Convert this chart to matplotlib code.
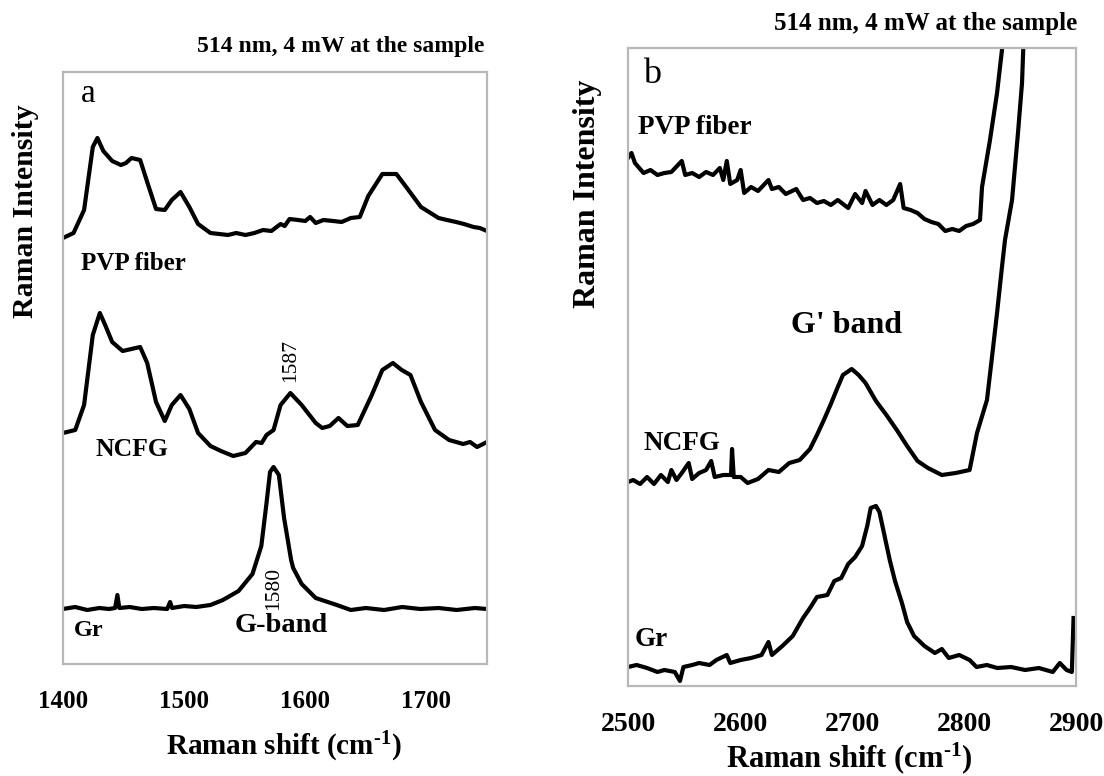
import matplotlib.pyplot as plt

plt.rcParams['font.family'] = ['Liberation Serif', 'DejaVu Serif']
plt.rcParams['mathtext.fontset'] = 'custom'
plt.rcParams['mathtext.rm'] = 'Liberation Serif:bold'
plt.rcParams['mathtext.it'] = 'Liberation Serif:bold'
plt.rcParams['mathtext.bf'] = 'Liberation Serif:bold'

# ---- panel a: G-band region (1400-1750 cm-1) ----
shift_a_pvp = [1400, 1408.7, 1417.4, 1424.6, 1428.4, 1433.3, 1440.6, 1447.8, 1452, 1456.5,
               1463.7, 1469.5, 1476.8, 1484.0, 1489.8, 1497.0, 1504.3, 1511.5, 1521.7, 1529,
               1536.2, 1543, 1550.6, 1558, 1565.1, 1572, 1579.6, 1583, 1587, 1594.1, 1600,
               1604, 1608.6, 1615, 1623.1, 1630, 1637.6, 1645, 1652.0, 1663.6, 1675.2,
               1683.9, 1695.5, 1710.0, 1717, 1724.5, 1731, 1738.9, 1744, 1750]
int_a_pvp = [26, 31, 54, 117, 126, 113, 103, 99, 101, 106,
             104, 82, 55, 54, 64, 72, 57, 40, 31, 30,
             29, 31, 29, 31, 34, 33, 40, 38, 45, 44, 43,
             47, 41, 44, 43, 42, 46, 47, 68, 90, 90,
             76, 57, 46, 44, 42, 40, 37, 36, 33]

shift_a_ncfg = [1400, 1410.1, 1417.4, 1424.6, 1430.4, 1434.8, 1440.6, 1449.2, 1456.5, 1463.7,
                1469.5, 1476.8, 1484.0, 1489.8, 1497.0, 1504.3, 1511.5, 1521.7, 1530.4, 1540.5,
                1550.6, 1559.3, 1564, 1568.0, 1573.8, 1579.6, 1587.7, 1597.0, 1608.6, 1614,
                1620.2, 1627.4, 1634.7, 1643.3, 1654.9, 1663.6, 1672.3, 1679.6, 1686.8, 1695.5,
                1707.1, 1718.7, 1730.3, 1736, 1741.8, 1750]
int_a_ncfg = [31, 34, 59, 129, 151, 139, 122, 113, 115, 117,
              101, 62, 43, 59, 69, 55, 31, 18, 13, 8,
              11, 22, 21, 29, 34, 59, 71, 59, 41, 36,
              38, 46, 38, 39, 69, 94, 101, 94, 89, 62,
              34, 24, 20, 22, 17, 22]

shift_a_gr = [1400, 1410, 1420, 1430, 1438, 1443, 1444.9, 1446.5, 1455, 1465,
              1475, 1486, 1488.4, 1490, 1500, 1510, 1521.7, 1532, 1544.9, 1556.4,
              1563.7, 1568.0, 1570.9, 1573.8, 1578.2, 1582.5, 1588.3, 1590, 1597.0, 1608.6,
              1626.0, 1637.6, 1650, 1665, 1680, 1695, 1710, 1725, 1740, 1750]
int_a_gr = [55, 57, 54, 56, 55, 56, 69, 56, 57, 55,
            56, 55, 62, 56, 58, 57, 59, 64, 73, 90,
            118, 161, 192, 197, 189, 146, 104, 96, 80, 66,
            59, 54, 56, 54, 57, 55, 56, 54, 56, 55]

offsets_a = [400, 200, 0]   # PVP fiber, NCFG, Gr

# ---- panel b: G' band region (2500-2900 cm-1) ----
shift_b_pvp = [2500, 2503.1, 2506.2, 2513.9, 2520.1, 2526.3, 2532.5, 2538.7, 2548.0, 2551.1,
               2557.3, 2563.5, 2569.7, 2575.9, 2582.0, 2585.1, 2588.2, 2591.3, 2597.5, 2600.6,
               2603.7, 2609.9, 2616.1, 2625.4, 2628.5, 2634.7, 2640.9, 2650.2, 2656.3, 2662.5,
               2668.7, 2674.9, 2681.1, 2687.3, 2696.6, 2702.8, 2709.0, 2712.1, 2718.3, 2724.5,
               2730.7, 2736.8, 2743.0, 2746.1, 2752.3, 2758.5, 2764.7, 2770.9, 2777.1, 2783.3,
               2789.5, 2795.7, 2801.9, 2808.1, 2814.3, 2816.1, 2823.2, 2829.5, 2833.9, 2836.6]
int_b_pvp = [78, 83, 73, 63, 66, 61, 63, 64, 75, 61,
             63, 59, 64, 61, 68, 56, 75, 52, 56, 66,
             43, 49, 45, 56, 47, 49, 42, 47, 36, 38,
             33, 35, 31, 36, 28, 42, 33, 45, 31, 36,
             31, 36, 52, 28, 26, 23, 17, 14, 12, 5,
             7, 5, 10, 12, 16, 49, 96, 143, 186, 236]

shift_b_ncfg = [2500, 2504.6, 2510.8, 2517.0, 2523.2, 2529.4, 2535.6, 2538.7, 2543.3, 2548.0,
                2554.2, 2557.3, 2563.5, 2569.7, 2574.3, 2577.4, 2585.1, 2592.0, 2592.9, 2594.4,
                2600.6, 2606.8, 2616.1, 2625.4, 2634.7, 2644.0, 2653.3, 2662.5, 2668.7, 2674.9,
                2681.1, 2687.3, 2691.9, 2699.7, 2705.9, 2712.1, 2721.4, 2730.7, 2740.0, 2749.2,
                2758.5, 2767.8, 2780.2, 2792.6, 2805.0, 2811.6, 2820.5, 2825.0, 2829.5, 2833.9,
                2836.6, 2842.9, 2848.2, 2851.8, 2854.5]
int_b_ncfg = [4, 6, 2, 9, 2, 11, 4, 16, 6, 13,
              23, 7, 13, 16, 25, 9, 11, 11, 37, 9,
              9, 3, 7, 16, 14, 23, 26, 37, 51, 66,
              82, 99, 111, 117, 111, 103, 85, 71, 56, 40,
              25, 18, 11, 13, 16, 53, 86, 129, 173, 219,
              246, 286, 353, 403, 486]

shift_b_gr = [2500, 2507.7, 2517.0, 2526.3, 2532.5, 2541.8, 2546.4, 2549.5, 2557.3, 2563.5,
              2572.8, 2578.9, 2588.2, 2591.3, 2600.6, 2609.9, 2619.2, 2625.4, 2628.5, 2637.8,
              2647.1, 2656.3, 2662.5, 2668.7, 2678.0, 2684.2, 2690.4, 2696.6, 2702.8, 2709.0,
              2713.6, 2716.7, 2721.4, 2724.5, 2729.1, 2733.7, 2738.4, 2744.6, 2749.2, 2755.4,
              2764.7, 2774.0, 2780.2, 2786.4, 2795.7, 2805.0, 2811.2, 2820.4, 2829.7, 2842.1,
              2854.5, 2866.9, 2879.3, 2885.5, 2891.6, 2896.3, 2897.8]
int_b_gr = [19, 21, 18, 14, 16, 14, 5, 19, 21, 23,
            21, 26, 31, 23, 26, 28, 31, 44, 31, 40,
            50, 68, 78, 89, 91, 105, 108, 122, 129, 140,
            160, 178, 180, 174, 150, 126, 105, 83, 64, 50,
            40, 33, 37, 28, 31, 26, 19, 21, 18, 19,
            16, 18, 14, 23, 16, 14, 68]

offsets_b = [450, 200, 0]   # PVP fiber, NCFG, Gr

xticks_a = [1400, 1500, 1600, 1700]
xticks_b = [2500, 2600, 2700, 2800, 2900]

W, H = 1104, 776
fig = plt.figure(figsize=(W / 100, H / 100), dpi=100)


def px_axes(x0, y0, x1, y1):
    return fig.add_axes([x0 / W, 1 - y1 / H, (x1 - x0) / W, (y1 - y0) / H])


def style_box(ax, ticks, size):
    for s in ax.spines.values():
        s.set_color('#b8b8b8')
        s.set_linewidth(1.6)
    ax.set_xticks(ticks)
    ax.set_yticks([])
    ax.tick_params(axis='x', length=0, pad=19, labelsize=size)
    for lab in ax.get_xticklabels():
        lab.set_fontweight('bold')


lw = 3.0
xlabel = 'Raman shift (cm$^{\u2010 1}$)'.replace(' 1', '1')

# panel a
ax1 = px_axes(63, 72, 487, 664)
ax1.plot(shift_a_pvp, [v + offsets_a[0] for v in int_a_pvp], color='black', lw=lw)
ax1.plot(shift_a_ncfg, [v + offsets_a[1] for v in int_a_ncfg], color='black', lw=lw)
ax1.plot(shift_a_gr, [v + offsets_a[2] for v in int_a_gr], color='black', lw=lw)
ax1.set_xlim(1400, 1750)
ax1.set_ylim(0, 592)
style_box(ax1, xticks_a, 18)

ax1.text(1414.9, 562, 'a', fontsize=24)
ax1.text(1414.9, 394, 'PVP fiber', fontsize=18, fontweight='bold')
ax1.text(1427.2, 208, 'NCFG', fontsize=18.5, fontweight='bold')
ax1.text(1409, 28, 'Gr', fontsize=17.5, fontweight='bold')
ax1.text(1580.3, 32, 'G-band', fontsize=20.5, fontweight='bold', ha='center')
ax1.text(1587.7, 304, '1587', fontsize=15.5, rotation=90, ha='center', va='center')
ax1.text(1573.8, 76, '1580', fontsize=15.5, rotation=90, ha='center', va='center',
         bbox=dict(facecolor='white', edgecolor='none', pad=0.5))

# panel b
ax2 = px_axes(628, 48, 1076, 686)
ax2.plot(shift_b_pvp, [v + offsets_b[0] for v in int_b_pvp], color='black', lw=lw)
ax2.plot(shift_b_ncfg, [v + offsets_b[1] for v in int_b_ncfg], color='black', lw=lw)
ax2.plot(shift_b_gr, [v + offsets_b[2] for v in int_b_gr], color='black', lw=lw)
ax2.set_xlim(2500, 2900)
ax2.set_ylim(0, 638)
style_box(ax2, xticks_b, 20)

ax2.text(2513.4, 603, 'b', fontsize=26)
ax2.text(2508.9, 552, 'PVP fiber', fontsize=19.5, fontweight='bold')
ax2.text(2695.5, 353, "G' band", fontsize=23, fontweight='bold', ha='center')
ax2.text(2513.4, 236, 'NCFG', fontsize=19.5, fontweight='bold')
ax2.text(2506.3, 40, 'Gr', fontsize=19.5, fontweight='bold')

# titles, axis labels
fig.text(484 / W, 1 - 52 / H, '514 nm, 4 mW at the sample', fontsize=17,
         fontweight='bold', ha='right', va='baseline')
fig.text(1077 / W, 1 - 30 / H, '514 nm, 4 mW at the sample', fontsize=18,
         fontweight='bold', ha='right', va='baseline')
fig.text(284 / W, 1 - 755 / H, xlabel, fontsize=21,
         fontweight='bold', ha='center', va='baseline')
fig.text(849 / W, 1 - 767 / H, xlabel, fontsize=22,
         fontweight='bold', ha='center', va='baseline')
fig.text(26 / W, 1 - 211 / H, 'Raman Intensity', fontsize=21.5, fontweight='bold',
         rotation=90, ha='center', va='center')
fig.text(588 / W, 1 - 194 / H, 'Raman Intensity', fontsize=23, fontweight='bold',
         rotation=90, ha='center', va='center')

fig.savefig('out.png', dpi=100, facecolor='white')
